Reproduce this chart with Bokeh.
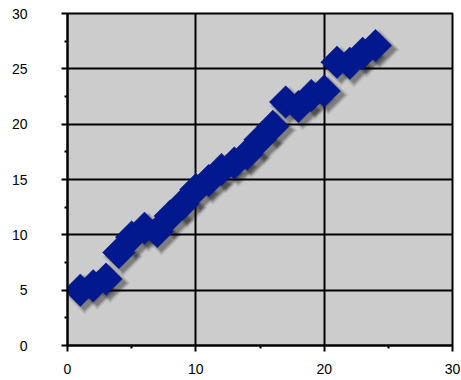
import math

from bokeh.embed import file_html
from bokeh.models import ColumnDataSource, FixedTicker, Range1d
from bokeh.plotting import figure
from bokeh.resources import INLINE
from bokeh.transform import dodge

# series values
x_vals = [1, 2, 3, 4, 5, 6, 7, 8, 9, 10, 11, 12,
          13, 14, 15, 16, 17, 18, 19, 20, 21, 22, 23, 24]
y_vals = [5.0, 5.4, 6.0, 8.4, 9.8, 10.6, 10.3, 11.7, 12.8, 14.1, 14.9, 15.9,
          16.5, 17.3, 18.6, 19.8, 22.0, 21.6, 22.6, 23.0, 25.6, 25.5, 26.4, 27.1]

# axis ticks
x_ticks = [0, 10, 20, 30]
y_ticks = [0, 5, 10, 15, 20, 25, 30]

BLUE = "#02188F"
FONT = "Liberation Sans"

src = ColumnDataSource(data=dict(x=x_vals, y=y_vals))

p = figure(width=461, height=380, output_backend="svg", toolbar_location=None,
           x_range=Range1d(0, 30), y_range=Range1d(0, 30),
           min_border_left=67, min_border_right=9,
           min_border_top=13, min_border_bottom=35)

p.background_fill_color = "#CCCCCC"
p.border_fill_color = "white"
p.outline_line_color = "black"
p.outline_line_width = 2

for axis, ticks in ((p.xaxis, x_ticks), (p.yaxis, y_ticks)):
    axis.ticker = FixedTicker(ticks=ticks,
                              minor_ticks=[t + (ticks[1] - ticks[0]) / 2 for t in ticks[:-1]])
    axis.axis_line_color = "black"
    axis.axis_line_width = 2
    axis.major_tick_line_color = "black"
    axis.major_tick_line_width = 2
    axis.major_tick_in = 0
    axis.major_tick_out = 6
    axis.minor_tick_line_color = "black"
    axis.minor_tick_line_width = 2
    axis.minor_tick_in = 0
    axis.minor_tick_out = 3
    axis.major_label_text_font = FONT
    axis.major_label_text_font_size = "14px"
    axis.major_label_text_color = "black"

p.yaxis.major_label_standoff = 34
p.xaxis.major_label_standoff = 12

p.grid.grid_line_color = "black"
p.grid.grid_line_width = 2
p.xgrid.ticker = FixedTicker(ticks=x_ticks)
p.ygrid.ticker = FixedTicker(ticks=y_ticks)

# soft drop shadow behind the diamonds
for size, alpha in ((29, 0.06), (27, 0.09), (25, 0.12), (23, 0.16)):
    p.scatter(x=dodge("x", 0.32, range=p.x_range), y=dodge("y", -0.36, range=p.y_range),
              source=src, marker="square", angle=math.pi / 4, size=size,
              fill_color="black", fill_alpha=alpha, line_color=None)

# diamond markers
p.scatter(x="x", y="y", source=src, marker="square", angle=math.pi / 4, size=23,
          fill_color=BLUE, line_color=BLUE, line_width=0.5)

open("out.html", "w").write(file_html(p, INLINE))
